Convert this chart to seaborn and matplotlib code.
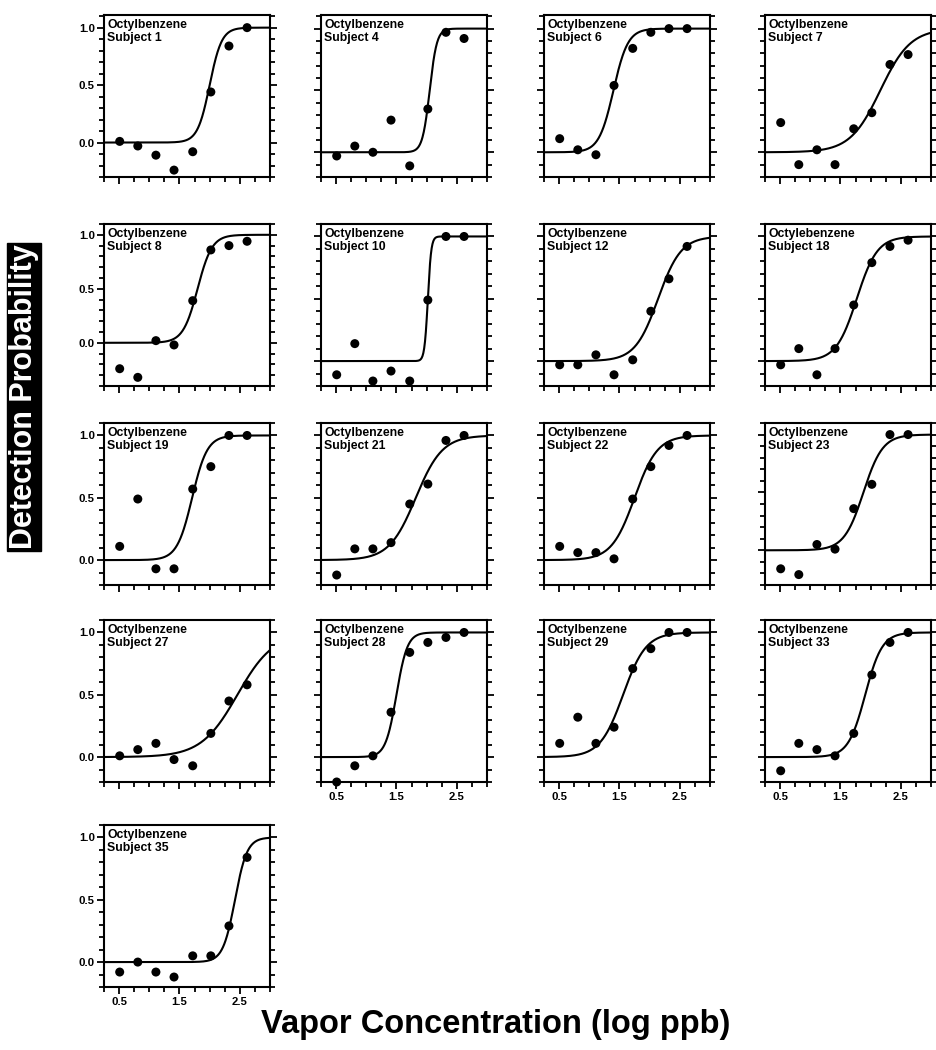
import numpy as np
import pandas as pd
import matplotlib
matplotlib.use("Agg")
import matplotlib.pyplot as plt
import seaborn as sns
from matplotlib.ticker import FixedLocator, MultipleLocator, FormatStrFormatter

# ---------------- data ----------------
conc = [0.51, 0.81, 1.11, 1.41, 1.72, 2.02, 2.32, 2.62]
subjects = [1, 4, 6, 7, 8, 10, 12, 18, 19, 21, 22, 23, 27, 28, 29, 33, 35]
compound = ["Octylbenzene"] * 7 + ["Octylebenzene"] + ["Octylbenzene"] * 9

p_s1 = [0.01, -0.03, -0.11, -0.24, -0.08, 0.44, 0.84, 1.00]
p_s4 = [-0.03, 0.05, 0.00, 0.26, -0.11, 0.35, 0.97, 0.92]
p_s6 = [0.11, 0.02, -0.02, 0.54, 0.84, 0.97, 1.00, 1.00]
p_s7 = [0.24, -0.10, 0.02, -0.10, 0.19, 0.32, 0.71, 0.79]
p_s8 = [-0.24, -0.32, 0.02, -0.02, 0.39, 0.86, 0.90, 0.94]
p_s10 = [-0.11, 0.14, -0.16, -0.08, -0.16, 0.49, 1.00, 1.00]
p_s12 = [-0.03, -0.03, 0.05, -0.11, 0.01, 0.40, 0.66, 0.92]
p_s18 = [-0.03, 0.10, -0.11, 0.10, 0.45, 0.79, 0.92, 0.97]
p_s19 = [0.11, 0.49, -0.07, -0.07, 0.57, 0.75, 1.00, 1.00]
p_s21 = [-0.12, 0.09, 0.09, 0.14, 0.45, 0.61, 0.96, 1.00]
p_s22 = [0.11, 0.06, 0.06, 0.01, 0.49, 0.75, 0.92, 1.00]
p_s23 = [-0.16, -0.21, 0.05, 0.01, 0.36, 0.57, 1.00, 1.00]
p_s27 = [0.01, 0.06, 0.11, -0.02, -0.07, 0.19, 0.45, 0.58]
p_s28 = [-0.20, -0.07, 0.01, 0.36, 0.84, 0.92, 0.96, 1.00]
p_s29 = [0.11, 0.32, 0.11, 0.24, 0.71, 0.87, 1.00, 1.00]
p_s33 = [-0.11, 0.11, 0.06, 0.01, 0.19, 0.66, 0.92, 1.00]
p_s35 = [-0.08, 0.00, -0.08, -0.12, 0.05, 0.05, 0.29, 0.84]

# fitted psychometric function parameters (midpoint, spread) per subject
fit_x50 = [2.00, 2.05, 1.40, 2.16, 1.80, 2.02, 2.14, 1.77, 1.71, 1.82, 1.75, 1.88, 2.46, 1.50, 1.56, 1.91, 2.42]
fit_spread = [0.10, 0.06, 0.12, 0.25, 0.12, 0.028, 0.19, 0.17, 0.125, 0.22, 0.19, 0.16, 0.30, 0.09, 0.19, 0.14, 0.10]

# per-panel y-axis lower limit
y_bottom = [-0.3, -0.2, -0.2, -0.2, -0.4, -0.2, -0.2, -0.2, -0.2, -0.2, -0.2, -0.3, -0.2, -0.2, -0.2, -0.2, -0.2]

points = [p_s1, p_s4, p_s6, p_s7, p_s8, p_s10, p_s12, p_s18, p_s19, p_s21,
          p_s22, p_s23, p_s27, p_s28, p_s29, p_s33, p_s35]

x_ticks = [0.5, 1.5, 2.5]
y_ticks = [0.0, 0.5, 1.0]

# ---------------- style ----------------
sns.set_style("ticks")
plt.rcParams["font.family"] = ["Liberation Sans", "DejaVu Sans"]
plt.rcParams["font.weight"] = "bold"
plt.rcParams["text.color"] = "black"
plt.rcParams["axes.labelcolor"] = "black"
plt.rcParams["xtick.color"] = "black"
plt.rcParams["ytick.color"] = "black"

W, H = 936, 1050
fig = plt.figure(figsize=(W / 100, H / 100), dpi=100)

col_left = [104, 321, 544, 765]
row_top = [15, 224, 423, 620, 825]
pw, ph = 166, 162

grid = np.linspace(0.25, 3.0, 400)

for i, subj in enumerate(subjects):
    r, c = divmod(i, 4)
    ax = fig.add_axes([col_left[c] / W, 1 - (row_top[r] + ph) / H, pw / W, ph / H])
    df_pts = pd.DataFrame({"conc": conc, "p": points[i]})
    curve = 1.0 / (1.0 + np.exp(-(grid - fit_x50[i]) / fit_spread[i]))
    df_fit = pd.DataFrame({"conc": grid, "p": curve})
    sns.lineplot(data=df_fit, x="conc", y="p", ax=ax, color="black", lw=1.5,
                 estimator=None, sort=False, zorder=2)
    sns.scatterplot(data=df_pts, x="conc", y="p", ax=ax, color="black", s=42,
                    edgecolor="none", zorder=3, clip_on=False)
    top = 1.11 if r == 0 else 1.10
    ax.set_xlim(0.25, 3.0)
    ax.set_ylim(y_bottom[i], top)
    ax.set_xlabel("")
    ax.set_ylabel("")
    for sp in ax.spines.values():
        sp.set_visible(True)
        sp.set_linewidth(1.5)
        sp.set_color("black")
    ax.xaxis.set_major_locator(FixedLocator(x_ticks))
    ax.xaxis.set_minor_locator(MultipleLocator(0.25))
    ax.yaxis.set_major_locator(FixedLocator(y_ticks))
    ax.yaxis.set_minor_locator(MultipleLocator(0.1))
    ax.yaxis.set_major_formatter(FormatStrFormatter("%.1f"))
    ax.xaxis.set_major_formatter(FormatStrFormatter("%.1f"))
    ax.tick_params(axis="y", which="both", left=True, right=True, direction="out",
                   width=1.3, color="black")
    ax.tick_params(axis="y", which="major", length=5)
    ax.tick_params(axis="y", which="minor", length=3.5)
    ax.tick_params(axis="x", which="both", bottom=True, top=False, direction="out",
                   width=1.3, color="black")
    ax.tick_params(axis="x", which="major", length=5, pad=2)
    ax.tick_params(axis="x", which="minor", length=3.5)
    ax.tick_params(axis="both", labelsize=8.2, labelcolor="black")
    show_y = (c == 0)
    show_x = (r == 4) or (r == 3 and c >= 1)
    ax.tick_params(axis="y", labelleft=show_y, labelright=False, pad=1.5)
    ax.tick_params(axis="x", labelbottom=show_x)
    for lab in ax.get_xticklabels() + ax.get_yticklabels():
        lab.set_fontweight("bold")
    ax.annotate(f"{compound[i]}\nSubject {subj}", xy=(0, 1), xycoords="axes fraction",
                xytext=(2.2, -3.2), textcoords="offset points", ha="left", va="top",
                fontsize=8.8, fontweight="bold", linespacing=1.1, zorder=4, color="black")

fig.text(24 / W, 1 - 397 / H, "Detection Probability", rotation=90, ha="center", va="center",
         fontsize=22, fontweight="bold", color="white",
         bbox=dict(facecolor="black", edgecolor="black", pad=1.0))
fig.text(496 / W, 1 - 1025 / H, "Vapor Concentration (log ppb)", ha="center", va="center",
         fontsize=23.5, fontweight="bold", color="black")

fig.savefig("out.png", dpi=100)
